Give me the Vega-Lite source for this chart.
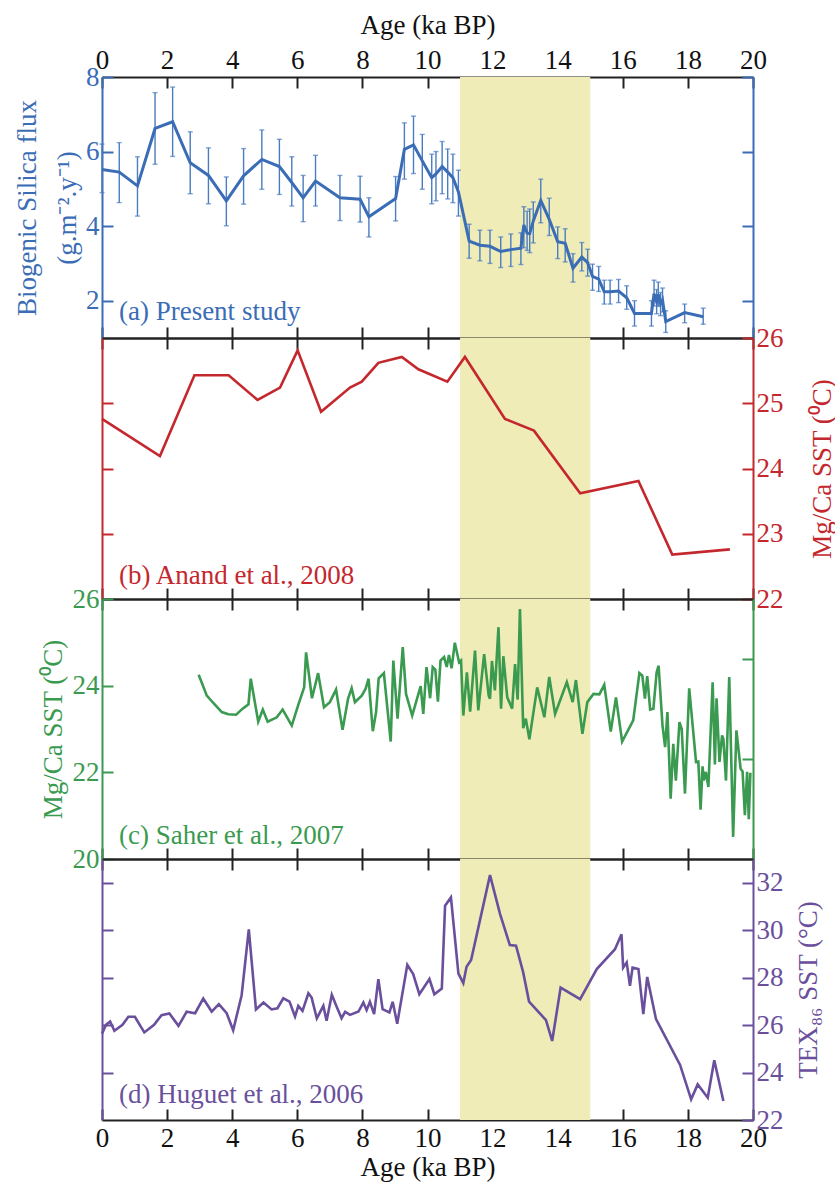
{
  "$schema": "https://vega.github.io/schema/vega-lite/v6.json",
  "padding": {"left": 13, "top": 11, "right": 0, "bottom": 4},
  "background": "white",
  "spacing": 0,
  "bounds": "flush",
  "config": {
    "view": {"stroke": null},
    "font": "Liberation Serif",
    "axis": {
      "grid": false,
      "labelFont": "Liberation Serif",
      "titleFont": "Liberation Serif",
      "labelFontSize": 27,
      "titleFontSize": 27,
      "titleFontWeight": "normal",
      "domainWidth": 2,
      "tickWidth": 2,
      "tickSize": -11,
      "labelFlush": false,
      "labelOverlap": false,
      "labelPadding": 14
    }
  },
  "datasets": {
    "band": [{"start": 11, "end": 15}],
    "bsi": [
      {"age": 0, "v": 5.52, "lo": 4.9, "hi": 6.2},
      {"age": 0.53, "v": 5.45, "lo": 4.63, "hi": 6.24},
      {"age": 1.09, "v": 5.08, "lo": 4.27, "hi": 5.86},
      {"age": 1.63, "v": 6.62, "lo": 5.66, "hi": 7.58},
      {"age": 2.17, "v": 6.8, "lo": 5.87, "hi": 7.73},
      {"age": 2.71, "v": 5.7, "lo": 4.87, "hi": 6.53},
      {"age": 3.27, "v": 5.36, "lo": 4.6, "hi": 6.1},
      {"age": 3.82, "v": 4.68, "lo": 4.01, "hi": 5.32},
      {"age": 4.35, "v": 5.35, "lo": 4.59, "hi": 6.08},
      {"age": 4.91, "v": 5.79, "lo": 4.99, "hi": 6.58},
      {"age": 5.45, "v": 5.6, "lo": 4.85, "hi": 6.33},
      {"age": 5.83, "v": 5.17, "lo": 4.54, "hi": 5.86},
      {"age": 6.18, "v": 4.76, "lo": 4.12, "hi": 5.36},
      {"age": 6.56, "v": 5.21, "lo": 4.54, "hi": 5.9},
      {"age": 7.31, "v": 4.76, "lo": 4.15, "hi": 5.36},
      {"age": 7.93, "v": 4.72, "lo": 4.11, "hi": 5.34},
      {"age": 8.2, "v": 4.25, "lo": 3.71, "hi": 4.76},
      {"age": 9.02, "v": 4.74, "lo": 4.14, "hi": 5.33},
      {"age": 9.29, "v": 6.06, "lo": 5.26, "hi": 6.77},
      {"age": 9.57, "v": 6.18, "lo": 5.41, "hi": 6.95},
      {"age": 9.84, "v": 5.75, "lo": 4.99, "hi": 6.46},
      {"age": 10.13, "v": 5.3, "lo": 4.6, "hi": 5.93},
      {"age": 10.26, "v": 5.4, "lo": 4.68, "hi": 6.0},
      {"age": 10.45, "v": 5.6, "lo": 4.87, "hi": 6.27},
      {"age": 10.62, "v": 5.45, "lo": 4.73, "hi": 6.07},
      {"age": 10.78, "v": 5.3, "lo": 4.63, "hi": 5.93},
      {"age": 10.95, "v": 4.92, "lo": 4.27, "hi": 5.5},
      {"age": 11.28, "v": 3.6, "lo": 3.14, "hi": 4.05},
      {"age": 11.61, "v": 3.49, "lo": 3.07, "hi": 3.89},
      {"age": 11.92, "v": 3.46, "lo": 3.0, "hi": 3.89},
      {"age": 12.25, "v": 3.32, "lo": 2.89, "hi": 3.71},
      {"age": 12.56, "v": 3.37, "lo": 2.92, "hi": 3.79},
      {"age": 12.87, "v": 3.41, "lo": 2.97, "hi": 3.82},
      {"age": 12.96, "v": 4.03, "lo": 3.42, "hi": 4.52},
      {"age": 13.06, "v": 3.81, "lo": 3.35, "hi": 4.4},
      {"age": 13.14, "v": 3.8, "lo": 3.29, "hi": 4.46},
      {"age": 13.25, "v": 4.14, "lo": 3.55, "hi": 4.65},
      {"age": 13.48, "v": 4.69, "lo": 4.09, "hi": 5.26},
      {"age": 13.74, "v": 4.18, "lo": 3.75, "hi": 4.75},
      {"age": 14.0, "v": 3.58, "lo": 3.13, "hi": 3.98},
      {"age": 14.23, "v": 3.54, "lo": 3.04, "hi": 3.93},
      {"age": 14.47, "v": 2.87, "lo": 2.5, "hi": 3.26},
      {"age": 14.74, "v": 3.17, "lo": 2.8, "hi": 3.56},
      {"age": 14.92, "v": 3.02, "lo": 2.66, "hi": 3.38},
      {"age": 15.07, "v": 2.65, "lo": 2.28, "hi": 2.98},
      {"age": 15.26, "v": 2.58, "lo": 2.25, "hi": 2.92},
      {"age": 15.43, "v": 2.24, "lo": 1.91, "hi": 2.55},
      {"age": 15.61, "v": 2.24, "lo": 1.91, "hi": 2.55},
      {"age": 15.87, "v": 2.26, "lo": 1.95, "hi": 2.57},
      {"age": 16.12, "v": 2.08, "lo": 1.77, "hi": 2.4},
      {"age": 16.36, "v": 1.66, "lo": 1.32, "hi": 2.0},
      {"age": 16.88, "v": 1.66, "lo": 1.32, "hi": 2.0},
      {"age": 16.96, "v": 2.19, "lo": 1.86, "hi": 2.55},
      {"age": 17.04, "v": 1.97, "lo": 1.65, "hi": 2.3},
      {"age": 17.09, "v": 2.17, "lo": 1.85, "hi": 2.5},
      {"age": 17.16, "v": 1.91, "lo": 1.6, "hi": 2.22},
      {"age": 17.22, "v": 2.02, "lo": 1.7, "hi": 2.34},
      {"age": 17.32, "v": 1.44, "lo": 1.15, "hi": 1.73},
      {"age": 17.9, "v": 1.68, "lo": 1.41, "hi": 1.91},
      {"age": 18.47, "v": 1.57, "lo": 1.37, "hi": 1.8}
    ],
    "anand": [
      {"age": 0, "v": 24.76}, {"age": 1.78, "v": 24.19}, {"age": 2.84, "v": 25.43},
      {"age": 3.89, "v": 25.43}, {"age": 4.78, "v": 25.05}, {"age": 5.47, "v": 25.24},
      {"age": 6.01, "v": 25.81}, {"age": 6.73, "v": 24.87}, {"age": 7.62, "v": 25.24},
      {"age": 7.98, "v": 25.33}, {"age": 8.49, "v": 25.62}, {"age": 9.21, "v": 25.71},
      {"age": 9.72, "v": 25.52}, {"age": 10.61, "v": 25.33}, {"age": 11.15, "v": 25.71},
      {"age": 12.38, "v": 24.76}, {"age": 13.27, "v": 24.58}, {"age": 14.69, "v": 23.62},
      {"age": 16.48, "v": 23.81}, {"age": 17.52, "v": 22.68}, {"age": 19.29, "v": 22.76}
    ],
    "saher": [
      {"age": 2.97, "v": 24.25}, {"age": 3.22, "v": 23.77}, {"age": 3.42, "v": 23.6},
      {"age": 3.68, "v": 23.39}, {"age": 3.88, "v": 23.34}, {"age": 4.12, "v": 23.33},
      {"age": 4.32, "v": 23.47}, {"age": 4.5, "v": 23.57}, {"age": 4.57, "v": 24.16},
      {"age": 4.8, "v": 23.17}, {"age": 4.94, "v": 23.45}, {"age": 5.09, "v": 23.17},
      {"age": 5.37, "v": 23.27}, {"age": 5.55, "v": 23.45}, {"age": 5.83, "v": 23.08},
      {"age": 6.04, "v": 23.58}, {"age": 6.21, "v": 23.96}, {"age": 6.27, "v": 24.77},
      {"age": 6.45, "v": 23.71}, {"age": 6.64, "v": 24.29}, {"age": 6.82, "v": 23.5},
      {"age": 7.0, "v": 23.62}, {"age": 7.19, "v": 23.91}, {"age": 7.39, "v": 22.98},
      {"age": 7.56, "v": 23.7}, {"age": 7.67, "v": 23.94}, {"age": 7.77, "v": 23.62},
      {"age": 7.98, "v": 23.77}, {"age": 8.1, "v": 23.93}, {"age": 8.19, "v": 24.16},
      {"age": 8.32, "v": 22.95}, {"age": 8.42, "v": 23.39}, {"age": 8.5, "v": 24.17},
      {"age": 8.66, "v": 24.29}, {"age": 8.87, "v": 22.71}, {"age": 8.95, "v": 24.58},
      {"age": 9.08, "v": 23.24}, {"age": 9.24, "v": 24.89}, {"age": 9.34, "v": 23.81},
      {"age": 9.53, "v": 23.31}, {"age": 9.79, "v": 23.99}, {"age": 9.87, "v": 23.35},
      {"age": 9.97, "v": 24.43}, {"age": 10.08, "v": 23.71}, {"age": 10.16, "v": 24.43},
      {"age": 10.24, "v": 24.37}, {"age": 10.32, "v": 23.63}, {"age": 10.4, "v": 24.58},
      {"age": 10.51, "v": 24.66}, {"age": 10.59, "v": 24.43}, {"age": 10.66, "v": 24.71},
      {"age": 10.74, "v": 24.4}, {"age": 10.84, "v": 24.99}, {"age": 10.97, "v": 24.54},
      {"age": 11.03, "v": 24.58}, {"age": 11.1, "v": 23.31}, {"age": 11.21, "v": 24.31},
      {"age": 11.31, "v": 23.4}, {"age": 11.46, "v": 24.81}, {"age": 11.56, "v": 23.43},
      {"age": 11.74, "v": 24.73}, {"age": 11.88, "v": 23.77}, {"age": 11.92, "v": 23.7},
      {"age": 11.98, "v": 24.57}, {"age": 12.07, "v": 23.89}, {"age": 12.18, "v": 25.35},
      {"age": 12.26, "v": 23.47}, {"age": 12.33, "v": 24.68}, {"age": 12.45, "v": 23.73},
      {"age": 12.6, "v": 23.47}, {"age": 12.69, "v": 24.5}, {"age": 12.77, "v": 23.68},
      {"age": 12.84, "v": 25.77}, {"age": 12.94, "v": 23.02}, {"age": 13.02, "v": 23.24},
      {"age": 13.13, "v": 22.76}, {"age": 13.37, "v": 23.96}, {"age": 13.59, "v": 23.27},
      {"age": 13.74, "v": 24.2}, {"age": 13.92, "v": 23.35}, {"age": 14.28, "v": 24.08},
      {"age": 14.46, "v": 23.62}, {"age": 14.56, "v": 24.13}, {"age": 14.76, "v": 22.89},
      {"age": 14.91, "v": 23.62}, {"age": 15.1, "v": 23.81}, {"age": 15.28, "v": 23.8},
      {"age": 15.43, "v": 24.02}, {"age": 15.63, "v": 22.94}, {"age": 15.79, "v": 23.73},
      {"age": 15.98, "v": 22.71}, {"age": 16.32, "v": 23.2}, {"age": 16.51, "v": 24.29},
      {"age": 16.6, "v": 24.23}, {"age": 16.68, "v": 23.7}, {"age": 16.75, "v": 24.22},
      {"age": 16.84, "v": 23.45}, {"age": 16.94, "v": 23.47}, {"age": 17.04, "v": 24.31},
      {"age": 17.1, "v": 24.46}, {"age": 17.22, "v": 23.08}, {"age": 17.3, "v": 22.58},
      {"age": 17.37, "v": 23.39}, {"age": 17.47, "v": 21.39}, {"age": 17.55, "v": 22.66},
      {"age": 17.63, "v": 21.81}, {"age": 17.74, "v": 23.16}, {"age": 17.81, "v": 23.0},
      {"age": 17.91, "v": 21.51}, {"age": 18.04, "v": 23.94}, {"age": 18.25, "v": 22.24},
      {"age": 18.32, "v": 22.25}, {"age": 18.39, "v": 21.14}, {"age": 18.45, "v": 22.14},
      {"age": 18.49, "v": 21.81}, {"age": 18.55, "v": 22.01}, {"age": 18.63, "v": 21.66},
      {"age": 18.76, "v": 24.08}, {"age": 18.83, "v": 22.18}, {"age": 18.88, "v": 23.71},
      {"age": 18.97, "v": 22.24}, {"age": 19.05, "v": 22.85}, {"age": 19.09, "v": 22.77},
      {"age": 19.17, "v": 21.81}, {"age": 19.27, "v": 24.2}, {"age": 19.39, "v": 20.51},
      {"age": 19.49, "v": 22.97}, {"age": 19.62, "v": 22.08}, {"age": 19.68, "v": 22.02},
      {"age": 19.75, "v": 21.01}, {"age": 19.82, "v": 22.01}, {"age": 19.87, "v": 20.92},
      {"age": 19.92, "v": 21.99}
    ],
    "huguet": [
      {"age": 0, "v": 25.64}, {"age": 0.12, "v": 26.01}, {"age": 0.25, "v": 26.15},
      {"age": 0.38, "v": 25.76}, {"age": 0.63, "v": 26.01}, {"age": 0.81, "v": 26.35},
      {"age": 1.01, "v": 26.35}, {"age": 1.3, "v": 25.69}, {"age": 1.6, "v": 26.01},
      {"age": 1.83, "v": 26.42}, {"age": 2.07, "v": 26.49}, {"age": 2.35, "v": 25.97},
      {"age": 2.6, "v": 26.56}, {"age": 2.86, "v": 26.5}, {"age": 3.11, "v": 27.12},
      {"age": 3.37, "v": 26.57}, {"age": 3.59, "v": 26.88}, {"age": 3.83, "v": 26.5},
      {"age": 4.03, "v": 25.78}, {"age": 4.29, "v": 27.26}, {"age": 4.51, "v": 30.03},
      {"age": 4.73, "v": 26.66}, {"age": 4.96, "v": 26.95}, {"age": 5.21, "v": 26.66},
      {"age": 5.39, "v": 26.71}, {"age": 5.57, "v": 27.13}, {"age": 5.76, "v": 26.99},
      {"age": 5.93, "v": 26.36}, {"age": 6.03, "v": 26.81}, {"age": 6.16, "v": 26.6},
      {"age": 6.34, "v": 27.34}, {"age": 6.44, "v": 27.16}, {"age": 6.6, "v": 26.28},
      {"age": 6.8, "v": 26.81}, {"age": 6.9, "v": 26.18}, {"age": 7.06, "v": 27.28},
      {"age": 7.21, "v": 26.77}, {"age": 7.36, "v": 26.29}, {"age": 7.47, "v": 26.56},
      {"age": 7.62, "v": 26.43}, {"age": 7.88, "v": 26.57}, {"age": 8.03, "v": 26.95},
      {"age": 8.13, "v": 26.63}, {"age": 8.23, "v": 26.98}, {"age": 8.36, "v": 26.46},
      {"age": 8.49, "v": 27.94}, {"age": 8.62, "v": 26.67}, {"age": 8.83, "v": 26.53},
      {"age": 8.93, "v": 26.98}, {"age": 9.07, "v": 26.06}, {"age": 9.38, "v": 28.54},
      {"age": 9.56, "v": 28.15}, {"age": 9.75, "v": 27.3}, {"age": 10.06, "v": 27.94},
      {"age": 10.21, "v": 27.3}, {"age": 10.44, "v": 27.54}, {"age": 10.54, "v": 31.03},
      {"age": 10.72, "v": 31.38}, {"age": 10.95, "v": 28.17}, {"age": 11.1, "v": 27.77},
      {"age": 11.2, "v": 28.46}, {"age": 11.34, "v": 28.74}, {"age": 11.92, "v": 32.32},
      {"age": 12.23, "v": 30.68}, {"age": 12.53, "v": 29.37}, {"age": 12.72, "v": 29.35},
      {"age": 12.94, "v": 28.22}, {"age": 13.12, "v": 26.99}, {"age": 13.64, "v": 26.21},
      {"age": 13.83, "v": 25.33}, {"age": 14.09, "v": 27.58}, {"age": 14.69, "v": 27.09},
      {"age": 15.2, "v": 28.36}, {"age": 15.76, "v": 29.2}, {"age": 15.96, "v": 29.83},
      {"age": 16.01, "v": 28.42}, {"age": 16.12, "v": 28.64}, {"age": 16.22, "v": 27.65},
      {"age": 16.3, "v": 28.42}, {"age": 16.48, "v": 28.36}, {"age": 16.63, "v": 26.46},
      {"age": 16.75, "v": 28.03}, {"age": 17.02, "v": 26.25}, {"age": 17.76, "v": 24.32},
      {"age": 18.1, "v": 22.87}, {"age": 18.3, "v": 23.5}, {"age": 18.61, "v": 22.94},
      {"age": 18.81, "v": 24.52}, {"age": 19.09, "v": 22.8}
    ],
    "labA": [{"age": 0.52, "val": 1.49, "label": "(a) Present study"}],
    "labB": [{"age": 0.52, "val": 22.23, "label": "(b) Anand et al., 2008"}],
    "labC": [{"age": 0.52, "val": 20.35, "label": "(c) Saher et al., 2007"}],
    "labD": [{"age": 0.52, "val": 22.72, "label": "(d) Huguet et al., 2006"}]
  },
  "resolve": {"scale": {"x": "independent", "y": "independent"}},
  "vconcat": [
    {
      "width": 651, "height": 261,
      "resolve": {"axis": {"x": "independent", "y": "independent"}},
      "layer": [
        {"data": {"name": "band"}, "mark": {"type": "rect", "color": "#efecb8"},
         "encoding": {"x": {"field": "start", "type": "quantitative", "scale": {"domain": [0, 20], "nice": false, "zero": false}, "axis": null}, "x2": {"field": "end"}}},
        {"data": {"name": "bsi"}, "mark": {"type": "errorbar", "ticks": true, "size": 5, "thickness": 1.4, "color": "#4a7cc0"},
         "encoding": {"x": {"field": "age", "type": "quantitative", "scale": {"domain": [0, 20], "nice": false, "zero": false}, "axis": null},
                      "y": {"field": "lo", "type": "quantitative", "scale": {"domain": [1, 8], "nice": false, "zero": false}, "axis": null},
                      "y2": {"field": "hi"}}},
        {"data": {"name": "bsi"}, "mark": {"type": "line", "color": "#3a6db5", "strokeWidth": 3},
         "encoding": {"x": {"field": "age", "type": "quantitative", "scale": {"domain": [0, 20], "nice": false, "zero": false},
                            "axis": {"orient": "top", "values": [0, 2, 4, 6, 8, 10, 12, 14, 16, 18, 20], "title": "Age (ka BP)", "labelPadding": 14, "titlePadding": 7, "domainColor": "#222", "tickColor": "#222", "labelColor": "#111", "titleColor": "#111"}},
                      "y": {"field": "v", "type": "quantitative", "scale": {"domain": [1, 8], "nice": false, "zero": false},
                            "axis": {"orient": "left", "values": [2, 4, 6, 8], "title": ["Biogenic Silica flux", "(g.m⁻².y⁻¹)"], "titlePadding": 4, "titleLineHeight": 40, "domainColor": "#3a6db5", "tickColor": "#3a6db5", "labelColor": "#3a6db5", "titleColor": "#3a6db5"}}}},
        {"data": {"name": "labA"}, "mark": {"type": "text", "align": "left", "baseline": "alphabetic", "font": "Liberation Serif", "fontSize": 27, "color": "#3a6db5"},
         "encoding": {"x": {"field": "age", "type": "quantitative", "scale": {"domain": [0, 20], "nice": false, "zero": false},
                            "axis": {"orient": "bottom", "values": [0, 2, 4, 6, 8, 10, 12, 14, 16, 18, 20], "labels": false, "title": null, "domainColor": "#222", "tickColor": "#222"}},
                      "y": {"field": "val", "type": "quantitative", "scale": {"domain": [1, 8], "nice": false, "zero": false},
                            "axis": {"orient": "right", "values": [2, 4, 6, 8], "labels": false, "title": null, "domainColor": "#3a6db5", "tickColor": "#3a6db5"}},
                      "text": {"field": "label"}}}
      ]
    },
    {
      "width": 651, "height": 261,
      "resolve": {"axis": {"x": "independent", "y": "independent"}},
      "layer": [
        {"data": {"name": "band"}, "mark": {"type": "rect", "color": "#efecb8"},
         "encoding": {"x": {"field": "start", "type": "quantitative", "scale": {"domain": [0, 20], "nice": false, "zero": false}, "axis": null}, "x2": {"field": "end"}}},
        {"data": {"name": "anand"}, "mark": {"type": "line", "color": "#c4282e", "strokeWidth": 2.6},
         "encoding": {"x": {"field": "age", "type": "quantitative", "scale": {"domain": [0, 20], "nice": false, "zero": false},
                            "axis": {"orient": "top", "values": [0, 2, 4, 6, 8, 10, 12, 14, 16, 18, 20], "labels": false, "title": null, "domainColor": "#222", "tickColor": "#222"}},
                      "y": {"field": "v", "type": "quantitative", "scale": {"domain": [22, 26], "nice": false, "zero": false},
                            "axis": {"orient": "left", "values": [23, 24, 25], "labels": false, "title": null, "domainColor": "#c4282e", "tickColor": "#c4282e"}}}},
        {"data": {"name": "labB"}, "mark": {"type": "text", "align": "left", "baseline": "alphabetic", "font": "Liberation Serif", "fontSize": 27, "color": "#c4282e"},
         "encoding": {"x": {"field": "age", "type": "quantitative", "scale": {"domain": [0, 20], "nice": false, "zero": false},
                            "axis": {"orient": "bottom", "values": [0, 2, 4, 6, 8, 10, 12, 14, 16, 18, 20], "labels": false, "title": null, "domainColor": "#222", "tickColor": "#222"}},
                      "y": {"field": "val", "type": "quantitative", "scale": {"domain": [22, 26], "nice": false, "zero": false},
                            "axis": {"orient": "right", "values": [22, 23, 24, 25, 26], "title": "Mg/Ca SST (⁰C)", "titleAngle": 270, "titleBaseline": "top", "titlePadding": 26, "domainColor": "#c4282e", "tickColor": "#c4282e", "labelColor": "#c4282e", "titleColor": "#c4282e"}},
                      "text": {"field": "label"}}}
      ]
    },
    {
      "width": 651, "height": 260,
      "resolve": {"axis": {"x": "independent", "y": "independent"}},
      "layer": [
        {"data": {"name": "band"}, "mark": {"type": "rect", "color": "#efecb8"},
         "encoding": {"x": {"field": "start", "type": "quantitative", "scale": {"domain": [0, 20], "nice": false, "zero": false}, "axis": null}, "x2": {"field": "end"}}},
        {"data": {"name": "saher"}, "mark": {"type": "line", "color": "#3a9a50", "strokeWidth": 2.6},
         "encoding": {"x": {"field": "age", "type": "quantitative", "scale": {"domain": [0, 20], "nice": false, "zero": false},
                            "axis": {"orient": "top", "values": [0, 2, 4, 6, 8, 10, 12, 14, 16, 18, 20], "labels": false, "title": null, "domainColor": "#222", "tickColor": "#222"}},
                      "y": {"field": "v", "type": "quantitative", "scale": {"domain": [20, 26], "nice": false, "zero": false},
                            "axis": {"orient": "left", "values": [20, 22, 24, 26], "title": "Mg/Ca SST (⁰C)", "titlePadding": 5, "domainColor": "#3a9a50", "tickColor": "#3a9a50", "labelColor": "#3a9a50", "titleColor": "#3a9a50"}}}},
        {"data": {"name": "labC"}, "mark": {"type": "text", "align": "left", "baseline": "alphabetic", "font": "Liberation Serif", "fontSize": 27, "color": "#3a9a50"},
         "encoding": {"x": {"field": "age", "type": "quantitative", "scale": {"domain": [0, 20], "nice": false, "zero": false},
                            "axis": {"orient": "bottom", "values": [0, 2, 4, 6, 8, 10, 12, 14, 16, 18, 20], "labels": false, "title": null, "domainColor": "#222", "tickColor": "#222"}},
                      "y": {"field": "val", "type": "quantitative", "scale": {"domain": [20, 26], "nice": false, "zero": false},
                            "axis": {"orient": "right", "values": [22.31, 24.62], "labels": false, "title": null, "domainColor": "#3a9a50", "tickColor": "#3a9a50"}},
                      "text": {"field": "label"}}}
      ]
    },
    {
      "width": 651, "height": 261,
      "resolve": {"axis": {"x": "independent", "y": "independent"}},
      "layer": [
        {"data": {"name": "band"}, "mark": {"type": "rect", "color": "#efecb8"},
         "encoding": {"x": {"field": "start", "type": "quantitative", "scale": {"domain": [0, 20], "nice": false, "zero": false}, "axis": null}, "x2": {"field": "end"}}},
        {"data": {"name": "huguet"}, "mark": {"type": "line", "color": "#6a4f9c", "strokeWidth": 2.6},
         "encoding": {"x": {"field": "age", "type": "quantitative", "scale": {"domain": [0, 20], "nice": false, "zero": false},
                            "axis": {"orient": "top", "values": [0, 2, 4, 6, 8, 10, 12, 14, 16, 18, 20], "labels": false, "title": null, "domainColor": "#222", "tickColor": "#222"}},
                      "y": {"field": "v", "type": "quantitative", "scale": {"domain": [22, 33], "nice": false, "zero": false},
                            "axis": {"orient": "left", "values": [24, 26, 28, 30, 32], "labels": false, "title": null, "domainColor": "#6a4f9c", "tickColor": "#6a4f9c"}}}},
        {"data": {"name": "labD"}, "mark": {"type": "text", "align": "left", "baseline": "alphabetic", "font": "Liberation Serif", "fontSize": 27, "color": "#6a4f9c"},
         "encoding": {"x": {"field": "age", "type": "quantitative", "scale": {"domain": [0, 20], "nice": false, "zero": false},
                            "axis": {"orient": "bottom", "values": [0, 2, 4, 6, 8, 10, 12, 14, 16, 18, 20], "title": "Age (ka BP)", "labelPadding": 16, "titlePadding": 3, "domainColor": "#222", "tickColor": "#222", "labelColor": "#111", "titleColor": "#111"}},
                      "y": {"field": "val", "type": "quantitative", "scale": {"domain": [22, 33], "nice": false, "zero": false},
                            "axis": {"orient": "right", "values": [22, 24, 26, 28, 30, 32], "title": "TEX₈₆ SST (°C)", "titleAngle": 270, "titleBaseline": "top", "titlePadding": 12, "domainColor": "#6a4f9c", "tickColor": "#6a4f9c", "labelColor": "#6a4f9c", "titleColor": "#6a4f9c"}},
                      "text": {"field": "label"}}}
      ]
    }
  ]
}
